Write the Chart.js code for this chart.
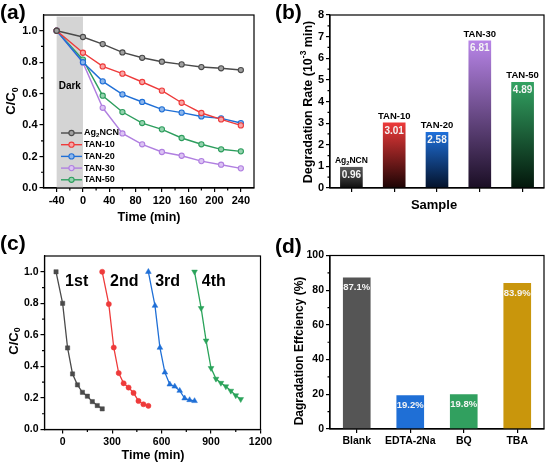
<!DOCTYPE html>
<html>
<head>
<meta charset="utf-8">
<script src="https://cdn.jsdelivr.net/npm/chart.js@4.4.1/dist/chart.umd.min.js"></script>
<style>
  html, body { margin: 0; padding: 0; background: #fff; }
  #wrap { position: relative; width: 550px; height: 469px; overflow: hidden; }
  #wrap canvas { position: absolute; left: 0; top: 0; }
</style>
</head>
<body>
<div id="wrap">
  <canvas id="chartA" width="550" height="469"></canvas>
  <canvas id="chartB" width="550" height="469"></canvas>
  <canvas id="chartC" width="550" height="469"></canvas>
  <canvas id="chartD" width="550" height="469"></canvas>
</div>
<script>
const FONT = "'Liberation Sans', Arial, sans-serif";

// --- (a) kinetics ---
const aTimes = [-40, 0, 30, 60, 90, 120, 150, 180, 210, 240];
const aNames = ['Ag2NCN', 'TAN-10', 'TAN-20', 'TAN-30', 'TAN-50'];
const aAg2NCN = [1.0, 0.96, 0.915, 0.862, 0.828, 0.803, 0.786, 0.769, 0.761, 0.75];
const aTan10 = [1.0, 0.86, 0.773, 0.727, 0.674, 0.619, 0.542, 0.477, 0.436, 0.398];
const aTan20 = [1.0, 0.80, 0.678, 0.595, 0.547, 0.50, 0.479, 0.455, 0.443, 0.413];
const aTan30 = [1.0, 0.797, 0.51, 0.347, 0.278, 0.229, 0.205, 0.171, 0.148, 0.125];
const aTan50 = [1.0, 0.816, 0.587, 0.483, 0.413, 0.373, 0.318, 0.278, 0.246, 0.233];
const aXTicks = [-40, 0, 40, 80, 120, 160, 200, 240];
const aXMinor = [-20, 20, 60, 100, 140, 180, 220];
const aYTicks = [0, 0.2, 0.4, 0.6, 0.8, 1.0];
const aYMinor = [0.1, 0.3, 0.5, 0.7, 0.9];
const aDark = [-40, 0];

// --- (b) rate constants ---
const bSamples = ['Ag2NCN', 'TAN-10', 'TAN-20', 'TAN-30', 'TAN-50'];
const bRates = [0.96, 3.01, 2.58, 6.81, 4.89];
const bYTicks = [0, 1, 2, 3, 4, 5, 6, 7, 8];
const bYMinor = [0.5, 1.5, 2.5, 3.5, 4.5, 5.5, 6.5, 7.5];

// --- (c) cycling ---
const cCycles = ['1st', '2nd', '3rd', '4th'];
const cTimes1 = [-40, 0, 30, 60, 90, 120, 150, 180, 210, 240];
const cTimes2 = [240, 280, 310, 340, 370, 400, 430, 460, 490, 520];
const cTimes3 = [520, 560, 590, 620, 650, 680, 710, 740, 770, 800];
const cTimes4 = [800, 840, 870, 900, 930, 960, 990, 1020, 1050, 1080];
const cRun1 = [1.0, 0.80, 0.517, 0.352, 0.283, 0.236, 0.211, 0.177, 0.152, 0.131];
const cRun2 = [1.0, 0.795, 0.52, 0.358, 0.293, 0.266, 0.232, 0.181, 0.16, 0.15];
const cRun3 = [1.0, 0.785, 0.519, 0.362, 0.286, 0.273, 0.246, 0.198, 0.187, 0.181];
const cRun4 = [1.0, 0.769, 0.563, 0.389, 0.321, 0.295, 0.273, 0.245, 0.216, 0.192];
const cLabelX = [15, 288, 561, 844];
const cXTicks = [0, 300, 600, 900, 1200];
const cXMinor = [150, 450, 750, 1050];
const cYTicks = [0, 0.2, 0.4, 0.6, 0.8, 1.0];
const cYMinor = [0.1, 0.3, 0.5, 0.7, 0.9];

// --- (d) scavengers ---
const dScavengers = ['Blank', 'EDTA-2Na', 'BQ', 'TBA'];
const dEff = [87.1, 19.2, 19.8, 83.9];
const dYTicks = [0, 20, 40, 60, 80, 100];
const dYMinor = [10, 30, 50, 70, 90];

const lineColors = ['#4a4a4a', '#ee3b3b', '#1f6fd6', '#b07fe0', '#2e9e5e'];
const markFill = ['#a0a0a0', '#f8a5a5', '#8cb6ec', '#dcc4f4', '#94d2ae'];
const bTop = ['#5a5a5a', '#ec3a3a', '#1f70da', '#b885e8', '#33a262'];
const bBottom = ['#0e0e0e', '#1c0404', '#04122a', '#1a0e24', '#03160b'];
const cColors = ['#4a4a4a', '#ee3b3b', '#1f6fd6', '#2aa35a'];
const dColors = ['#555555', '#1f6fd6', '#31a05f', '#c9960c'];

Chart.defaults.font.family = FONT;
Chart.defaults.font.weight = 'bold';
Chart.defaults.color = '#000';

// ---- helpers ----
function chem(name) {
    if (name.startsWith('Ag2')) return [['Ag', 'n'], ['2', 'sub'], [name.slice(3), 'n']];
    return [[name, 'n']];
}

function drawRich(ctx, parts, x, y, size, opts = {}) {
    ctx.save();
    ctx.translate(x, y);
    if (opts.rotate) ctx.rotate(-Math.PI / 2);
    ctx.fillStyle = opts.color || '#000';
    ctx.textBaseline = 'middle';
    ctx.textAlign = 'left';
    const fontFor = k => `bold ${k === 'n' ? size : size * 0.68}px ${FONT}`;
    let w = 0;
    parts.forEach(([t, k]) => { ctx.font = fontFor(k); w += ctx.measureText(t).width; });
    let cx = opts.align === 'left' ? 0 : -w / 2;
    parts.forEach(([t, k]) => {
        ctx.font = fontFor(k);
        const dy = k === 'sub' ? size * 0.3 : (k === 'sup' ? -size * 0.35 : 0);
        ctx.fillText(t, cx, dy);
        cx += ctx.measureText(t).width;
    });
    ctx.restore();
}

// box = width of a left axis / height of a bottom axis (labels are clipped to it)
function linAxis(pos, min, max, ticks, fmt, size, box) {
    return {
        type: 'linear', position: pos, min: min, max: max,
        afterFit: s => { if (pos === 'left') s.width = box; else s.height = box; },
        afterBuildTicks: s => { s.ticks = ticks.map(v => ({ value: v })); },
        ticks: { callback: fmt, color: '#000', font: { size: size, weight: 'bold' }, padding: 2, maxRotation: 0, autoSkip: false },
        grid: { drawOnChartArea: false, drawTicks: true, tickLength: 4, color: '#000', lineWidth: 1.2 },
        border: { display: true, color: '#000', width: 1.2 }
    };
}

function catAxis(showLabels, size, box) {
    return {
        type: 'category', position: 'bottom', offset: true,
        afterFit: s => { s.height = box; },
        ticks: {
            display: true, color: '#000', font: { size: size, weight: 'bold' }, padding: 2, maxRotation: 0, autoSkip: false,
            callback: function (v) { return showLabels ? this.getLabelForValue(v) : ''; }
        },
        grid: { offset: false, drawOnChartArea: false, drawTicks: true, tickLength: 4, color: '#000', lineWidth: 1.2 },
        border: { display: true, color: '#000', width: 1.2 }
    };
}

// Frame, minor ticks, titles and panel letter
function framePlugin(cfg) {
    return {
        id: 'frame',
        afterDraw(chart) {
            const { ctx, chartArea: a, scales } = chart;
            ctx.save();
            ctx.strokeStyle = '#000';
            ctx.lineWidth = 1.2;
            ctx.strokeRect(a.left, a.top, a.right - a.left, a.bottom - a.top);
            ctx.beginPath();
            (cfg.minorX || []).forEach(v => {
                const x = scales.x.getPixelForValue(v);
                ctx.moveTo(x, a.bottom); ctx.lineTo(x, a.bottom + 2.5);
            });
            (cfg.minorY || []).forEach(v => {
                const y = scales.y.getPixelForValue(v);
                ctx.moveTo(a.left, y); ctx.lineTo(a.left - 2.5, y);
            });
            ctx.stroke();
            ctx.restore();
            if (cfg.xTitle) drawRich(ctx, cfg.xTitle.parts, cfg.xTitle.x, cfg.xTitle.y, cfg.xTitle.size);
            if (cfg.yTitle) drawRich(ctx, cfg.yTitle.parts, cfg.yTitle.x, cfg.yTitle.y, cfg.yTitle.size, { rotate: true });
            drawRich(ctx, [[cfg.letter.text, 'n']], cfg.letter.x, cfg.letter.y, 21, { align: 'left' });
        }
    };
}

const noInteract = { animation: false, responsive: false, events: [] };

// ---------- (a) ----------
const aSeries = [aAg2NCN, aTan10, aTan20, aTan30, aTan50];
new Chart(document.getElementById('chartA'), {
    type: 'line',
    data: {
        datasets: aSeries.map((vals, i) => ({
            label: aNames[i],
            data: aTimes.map((t, j) => ({ x: t, y: vals[j] })),
            borderColor: lineColors[i],
            backgroundColor: markFill[i],
            pointBorderColor: lineColors[i],
            pointBackgroundColor: markFill[i],
            borderWidth: 1.4, pointRadius: 2.6, pointBorderWidth: 1.1, tension: 0
        }))
    },
    options: {
        ...noInteract,
        layout: { padding: { left: 3.5, top: 15, right: 296, bottom: 257 } },
        plugins: { legend: { display: false }, tooltip: { enabled: false } },
        scales: {
            x: linAxis('bottom', -60, 260, aXTicks, v => String(v), 11, 24),
            y: linAxis('left', 0, 1.1, aYTicks, v => v.toFixed(1), 11, 40)
        }
    },
    plugins: [{
        id: 'darkZone',
        beforeDatasetsDraw(chart) {
            const { ctx, chartArea: a, scales } = chart;
            const x0 = scales.x.getPixelForValue(aDark[0]);
            const x1 = scales.x.getPixelForValue(aDark[1]);
            const yT = scales.y.getPixelForValue(1.09);
            ctx.save();
            ctx.fillStyle = '#d4d4d4';
            ctx.fillRect(x0, yT, x1 - x0, a.bottom - yT);
            ctx.restore();
            drawRich(ctx, [['Dark', 'n']], scales.x.getPixelForValue(-20), scales.y.getPixelForValue(0.65), 10);
        },
        afterDatasetsDraw(chart) {
            const { ctx } = chart;
            aNames.forEach((name, i) => {
                const y = 133 + i * 11.7;
                ctx.save();
                ctx.strokeStyle = lineColors[i];
                ctx.lineWidth = 1.4;
                ctx.beginPath(); ctx.moveTo(61, y); ctx.lineTo(82, y); ctx.stroke();
                ctx.fillStyle = markFill[i];
                ctx.lineWidth = 1.1;
                ctx.beginPath(); ctx.arc(71.5, y, 2.6, 0, Math.PI * 2); ctx.fill(); ctx.stroke();
                ctx.restore();
                drawRich(ctx, chem(name), 84, y, 9, { align: 'left' });
            });
        }
    }, framePlugin({
        minorX: aXMinor, minorY: aYMinor,
        xTitle: { parts: [['Time (min)', 'n']], x: 149, y: 218, size: 12.5 },
        yTitle: { parts: [['C/C', 'n'], ['0', 'sub']], x: 11.5, y: 101, size: 13 },
        letter: { text: '(a)', x: 0, y: 13 }
    })]
});

// ---------- (b) ----------
new Chart(document.getElementById('chartB'), {
    type: 'bar',
    data: {
        labels: bSamples,
        datasets: [{
            data: bRates,
            backgroundColor: c => {
                const chart = c.chart;
                const i = c.dataIndex;
                if (!chart.chartArea || i === undefined) return bTop[i || 0];
                const ys = chart.scales.y;
                const top = ys.getPixelForValue(bRates[i]);
                const bottom = ys.getPixelForValue(0);
                const g = chart.ctx.createLinearGradient(0, top, 0, bottom);
                g.addColorStop(0, bTop[i]);
                g.addColorStop(1, bBottom[i]);
                return g;
            },
            borderWidth: 0,
            barThickness: 22
        }]
    },
    options: {
        ...noInteract,
        layout: { padding: { left: 310, top: 15, right: 6, bottom: 257 } },
        plugins: { legend: { display: false }, tooltip: { enabled: false } },
        scales: {
            x: catAxis(false, 11, 24),
            y: linAxis('left', 0, 8, bYTicks, v => String(v), 11, 20)
        }
    },
    plugins: [{
        id: 'barText',
        afterDatasetsDraw(chart) {
            const { ctx } = chart;
            chart.getDatasetMeta(0).data.forEach((bar, i) => {
                drawRich(ctx, chem(bSamples[i]), bar.x, bar.y - 6.5, i === 0 ? 8.5 : 9.5);
                drawRich(ctx, [[bRates[i].toFixed(2), 'n']], bar.x, bar.y + 8, 10, { color: '#f4f4f4' });
            });
        }
    }, framePlugin({
        minorY: bYMinor,
        xTitle: { parts: [['Sample', 'n']], x: 434, y: 205, size: 13 },
        yTitle: { parts: [['Degradation Rate (10', 'n'], ['-3', 'sup'], [' min)', 'n']], x: 308.5, y: 102, size: 12.5 },
        letter: { text: '(b)', x: 275, y: 13 }
    })]
});

// ---------- (c) ----------
const cTimes = [cTimes1, cTimes2, cTimes3, cTimes4];
const cRuns = [cRun1, cRun2, cRun3, cRun4];
const cStyles = ['rect', 'circle', 'triangle', 'triangle'];
const cRot = [0, 0, 0, 180];
const cRadius = [3, 2.6, 3.3, 3.3];
new Chart(document.getElementById('chartC'), {
    type: 'line',
    data: {
        datasets: cRuns.map((vals, i) => ({
            label: cCycles[i],
            data: cTimes[i].map((t, j) => ({ x: t, y: vals[j] })),
            borderColor: cColors[i],
            backgroundColor: cColors[i],
            pointBackgroundColor: cColors[i],
            pointBorderColor: cColors[i],
            pointStyle: cStyles[i],
            pointRotation: cRot[i],
            pointRadius: cRadius[i],
            pointBorderWidth: 0.5,
            borderWidth: 1.3, tension: 0
        }))
    },
    options: {
        ...noInteract,
        layout: { padding: { left: 4.5, top: 256, right: 289.5, bottom: 17.5 } },
        plugins: { legend: { display: false }, tooltip: { enabled: false } },
        scales: {
            x: linAxis('bottom', -110, 1200, cXTicks, v => String(v), 10.5, 22),
            y: linAxis('left', 0, 1.1, cYTicks, v => v.toFixed(1), 10.5, 40)
        }
    },
    plugins: [{
        id: 'cycleText',
        afterDatasetsDraw(chart) {
            const { ctx, scales } = chart;
            cCycles.forEach((name, i) => {
                drawRich(ctx, [[name, 'n']], scales.x.getPixelForValue(cLabelX[i]), scales.y.getPixelForValue(0.935), 16, { align: 'left' });
            });
        }
    }, framePlugin({
        minorX: cXMinor, minorY: cYMinor,
        xTitle: { parts: [['Time (min)', 'n']], x: 153, y: 456, size: 12.5 },
        yTitle: { parts: [['C/C', 'n'], ['0', 'sub']], x: 14, y: 341, size: 13 },
        letter: { text: '(c)', x: 0, y: 244 }
    })]
});

// ---------- (d) ----------
new Chart(document.getElementById('chartD'), {
    type: 'bar',
    data: {
        labels: dScavengers,
        datasets: [{
            data: dEff,
            backgroundColor: dColors,
            borderWidth: 0,
            barThickness: 27
        }]
    },
    options: {
        ...noInteract,
        layout: { padding: { left: 290, top: 255.5, right: 6, bottom: 18 } },
        plugins: { legend: { display: false }, tooltip: { enabled: false } },
        scales: {
            x: catAxis(true, 10.5, 22),
            y: linAxis('left', 0, 100, dYTicks, v => String(v), 10.5, 40)
        }
    },
    plugins: [{
        id: 'effText',
        afterDatasetsDraw(chart) {
            const { ctx } = chart;
            chart.getDatasetMeta(0).data.forEach((bar, i) => {
                drawRich(ctx, [[dEff[i].toFixed(1) + '%', 'n']], bar.x, bar.y + 9.5, 9.5, { color: '#f4f4f4' });
            });
        }
    }, framePlugin({
        minorY: dYMinor,
        yTitle: { parts: [['Dagradation Effciency (%)', 'n']], x: 300, y: 351, size: 12 },
        letter: { text: '(d)', x: 275, y: 247 }
    })]
});
</script>
</body>
</html>
